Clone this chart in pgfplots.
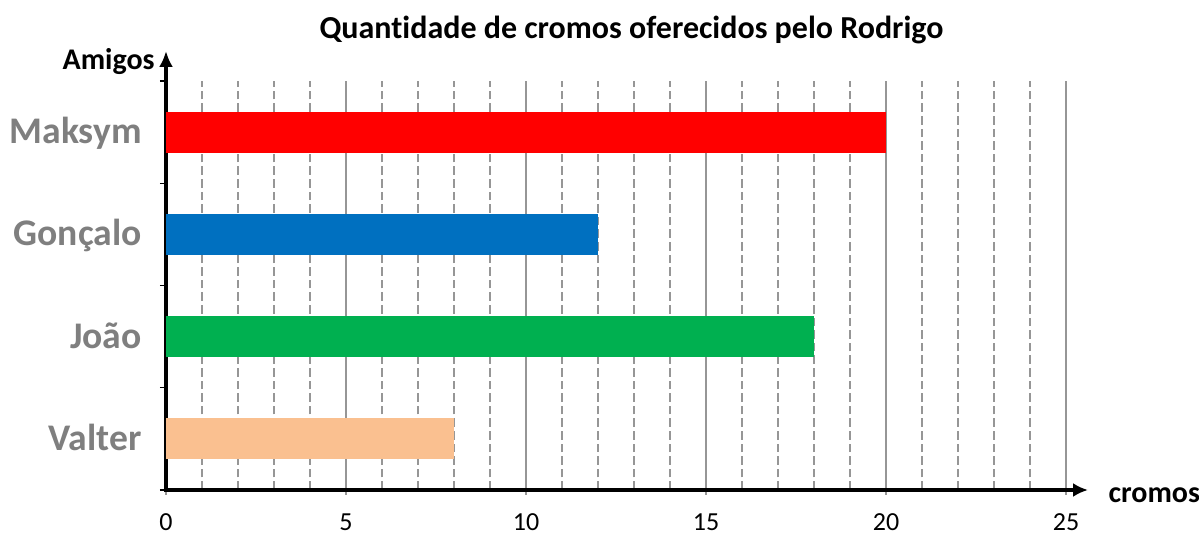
\documentclass[border=0pt]{standalone}
\usepackage{fontspec}
\setmainfont{Carlito}[Ligatures={NoCommon}]
\usepackage{pgfplots}
\pgfplotsset{compat=1.18}
\usetikzlibrary{arrows.meta}
\definecolor{cred}{RGB}{255,0,0}
\definecolor{cblue}{RGB}{0,112,192}
\definecolor{cgreen}{RGB}{0,176,80}
\definecolor{cpeach}{RGB}{250,192,144}
\definecolor{labgray}{RGB}{127,127,127}
\definecolor{gridgray}{RGB}{150,150,150}
\begin{document}
\begin{tikzpicture}
\path[use as bounding box] (-83pt,-22.5pt) rectangle (516.5pt,245pt);
\begin{axis}[
 at={(0,0)}, anchor=south west,
 x=18pt, y=51.125pt,
 xmin=0, xmax=25, ymin=-0.5, ymax=3.5,
 axis lines=left,
 clip=false,
 x axis line style={line width=2.2pt, -{Latex[length=7.5pt,width=7pt]}, shorten >=-11pt, shorten <=-1.1pt},
 y axis line style={line width=2.2pt, -{Latex[length=8pt,width=7pt]}, shorten >=-15pt, shorten <=-1.1pt},
 xtick={0,5,...,25},
 minor xtick={1,2,3,4,6,7,8,9,11,12,13,14,16,17,18,19,21,22,23,24},
 ytick={0,1,2,3},
 yticklabels={Valter,João,Gonçalo,Maksym},
 minor ytick={-0.5,0.5,1.5,2.5,3.5},
 tick align=outside,
 major tick length=2.5pt, minor tick length=3pt,
 major x tick style={gridgray, line width=0.9pt},
 minor x tick style={draw=none},
 major y tick style={draw=none},
 minor y tick style={black, line width=0.6pt},
 xmajorgrids, xminorgrids,
 major grid style={gridgray, line width=0.9pt},
 minor grid style={gridgray, line width=0.9pt, dash pattern=on 4.3pt off 2pt},
 /pgf/number format/assume math mode=true,
 xticklabel style={font=\fontsize{13}{13}\selectfont, anchor=base, inner sep=0pt, yshift=-17.5pt},
 yticklabel style={font=\fontsize{18.8}{18.8}\selectfont\bfseries, text=labgray, anchor=base east, inner sep=0pt, yshift=-5.8pt, xshift=-9.5pt},
]
\addplot[xbar, bar width=20.5pt, bar shift=0pt, fill=cred, draw=none] coordinates {(20,3)};
\addplot[xbar, bar width=20.5pt, bar shift=0pt, fill=cblue, draw=none] coordinates {(12,2)};
\addplot[xbar, bar width=20.5pt, bar shift=0pt, fill=cgreen, draw=none] coordinates {(18,1)};
\addplot[xbar, bar width=20.5pt, bar shift=0pt, fill=cpeach, draw=none] coordinates {(8,0)};
\node[anchor=base, font=\fontsize{16}{16}\selectfont\bfseries] at (axis cs:12.93,3.92) {Quantidade de cromos oferecidos pelo Rodrigo};
\node[anchor=base east, font=\fontsize{15}{15}\selectfont\bfseries, inner sep=0pt] at (axis cs:-0.306,3.608) {Amigos};
\node[anchor=base west, font=\fontsize{15}{15}\selectfont\bfseries, inner sep=0pt] at (axis cs:26.17,-0.627) {cromos};
\end{axis}
\end{tikzpicture}
\end{document}
